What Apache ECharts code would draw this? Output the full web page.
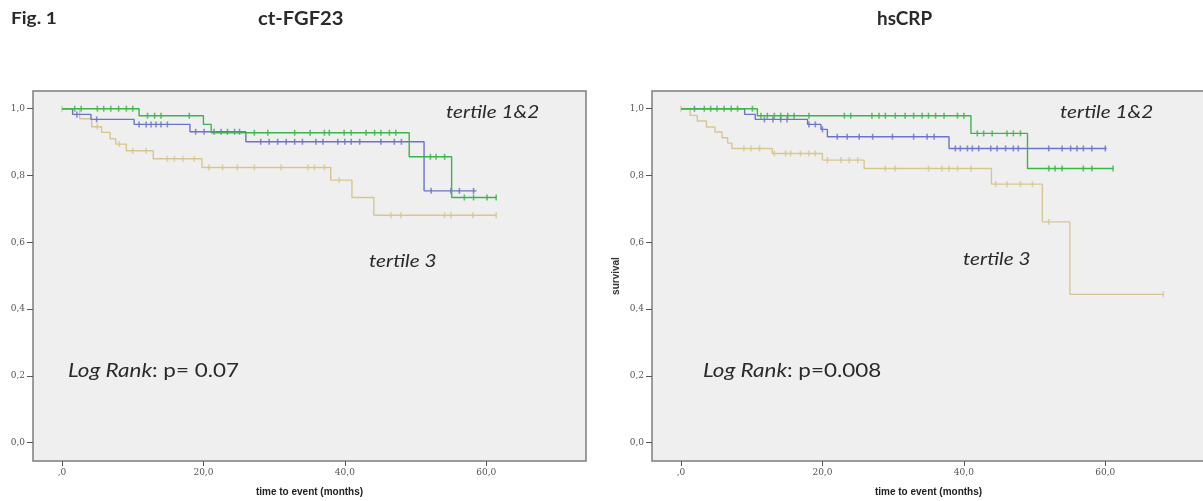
<!DOCTYPE html>
<html>
<head>
<meta charset="utf-8">
<script src="https://cdn.jsdelivr.net/npm/echarts@6/dist/echarts.min.js"></script>
<style>
html, body { margin: 0; padding: 0; background: #fff; }
#chart { width: 1203px; height: 501px; }
</style>
</head>
<body>
<div id="chart"></div>
<script>
var xTicks = [0, 20, 40, 60];
var yTicks = [0, 0.2, 0.4, 0.6, 0.8, 1.0];

// ct-FGF23, tertile 1 (green)
var fgfGreenTime = [0, 10.9, 20.0, 21.1, 49.1, 55.1];
var fgfGreenSurv = [1, 0.979, 0.953, 0.928, 0.856, 0.734];
var fgfGreenEnd = 61.4;
var fgfGreenCens = [1.8, 2.7, 5.0, 5.9, 6.9, 8.0, 9.1, 10.0, 12.1, 13.1, 14.0, 18.0, 27.2, 29.1, 32.9, 35.1, 37.1, 37.8, 39.9, 40.9, 43.0, 44.2, 45.1, 46.3, 47.2, 52.1, 52.9, 54.1, 56.9, 58.2, 60.1, 61.4];
// ct-FGF23, tertile 2 (blue)
var fgfBlueTime = [0, 1.5, 4.1, 10.2, 18.1, 26.0, 51.2];
var fgfBlueSurv = [1, 0.983, 0.968, 0.953, 0.931, 0.901, 0.754];
var fgfBlueEnd = 58.6;
var fgfBlueCens = [2.1, 4.9, 10.9, 11.9, 12.6, 13.3, 14.0, 14.9, 18.9, 20.1, 21.5, 22.5, 23.4, 24.4, 25.1, 28.1, 29.3, 30.5, 31.7, 32.9, 34.0, 35.9, 36.9, 39.0, 40.0, 40.9, 42.1, 45.1, 47.0, 48.0, 52.2, 55.0, 56.2, 58.2];
// ct-FGF23, tertile 3 (tan)
var fgfTanTime = [0, 2.5, 4.2, 5.6, 6.8, 7.6, 9.1, 12.9, 19.8, 38.0, 41.0, 44.1];
var fgfTanSurv = [1, 0.97, 0.946, 0.929, 0.91, 0.894, 0.874, 0.85, 0.824, 0.786, 0.734, 0.681];
var fgfTanEnd = 61.4;
var fgfTanCens = [0, 5.0, 8.1, 10.0, 11.9, 14.9, 15.9, 17.1, 18.7, 20.8, 22.7, 24.8, 27.2, 31.0, 34.8, 35.7, 37.1, 39.2, 46.5, 47.9, 54.1, 55.0, 58.1, 61.4];

// hsCRP, tertile 1 (green)
var crpGreenTime = [0, 10.8, 41.0, 49.0];
var crpGreenSurv = [1, 0.979, 0.926, 0.821];
var crpGreenEnd = 61.1;
var crpGreenCens = [3.3, 4.2, 5.1, 6.1, 7.1, 8.0, 10.1, 11.3, 12.2, 13.2, 14.1, 15.1, 16.0, 18.1, 23.1, 24.0, 27.0, 28.0, 28.9, 30.3, 31.7, 32.9, 34.1, 35.0, 36.0, 37.2, 39.1, 40.0, 41.9, 42.8, 44.0, 46.1, 47.0, 48.0, 52.0, 52.9, 53.9, 56.9, 58.1, 61.1];
// hsCRP, tertile 2 (blue)
var crpBlueTime = [0, 9.0, 10.5, 17.9, 19.8, 20.7, 37.9];
var crpBlueSurv = [1, 0.983, 0.968, 0.953, 0.938, 0.916, 0.881];
var crpBlueEnd = 60.2;
var crpBlueCens = [1.9, 11.8, 13.0, 14.1, 15.0, 18.1, 19.0, 20.0, 22.1, 23.5, 25.2, 27.1, 29.9, 32.9, 34.8, 35.8, 38.8, 39.5, 40.5, 41.2, 42.1, 43.8, 44.7, 45.9, 47.0, 47.7, 52.0, 53.9, 55.1, 56.0, 56.9, 58.1, 60.0];
// hsCRP, tertile 3 (tan)
var crpTanTime = [0, 1.3, 2.3, 3.6, 4.8, 5.8, 6.6, 7.2, 12.9, 20.0, 25.9, 43.9, 51.1, 55.0];
var crpTanSurv = [1, 0.98, 0.963, 0.945, 0.93, 0.913, 0.897, 0.881, 0.866, 0.846, 0.821, 0.774, 0.661, 0.444];
var crpTanEnd = 68.2;
var crpTanCens = [0, 8.9, 9.9, 11.1, 13.2, 14.8, 15.5, 16.9, 18.1, 19.0, 20.7, 22.6, 23.8, 25.0, 28.9, 30.3, 35.0, 36.9, 37.9, 39.1, 41.0, 44.5, 46.1, 48.0, 49.7, 52.0, 68.2];

var GREEN = '#3cb44a', BLUE = '#6a73cf', TAN = '#d6c790';

function survAt(times, surv, t) {
    var s = surv[0];
    for (var i = 0; i < times.length; i++) {
        if (times[i] <= t) s = surv[i];
    }
    return s;
}

function kmSeries(idx, times, surv, end, cens, color) {
    var line = times.map(function (t, i) { return [t, surv[i]]; });
    line.push([end, surv[surv.length - 1]]);
    return [{
        type: 'line', step: 'end', xAxisIndex: idx, yAxisIndex: idx,
        data: line, showSymbol: false, silent: true,
        lineStyle: { color: color, width: 1.4 }
    }, {
        type: 'scatter', xAxisIndex: idx, yAxisIndex: idx,
        data: cens.map(function (t) { return [t, survAt(times, surv, t)]; }),
        symbol: 'rect', symbolSize: [1.6, 6], silent: true,
        itemStyle: { color: color }
    }];
}

function xAx(idx) {
    return {
        type: 'value', gridIndex: idx, min: -4.1, max: 74.1,
        name: 'time to event (months)', nameLocation: 'middle', nameGap: 26,
        nameTextStyle: { fontFamily: 'Liberation Sans', fontWeight: 'bold', fontSize: 10, color: '#222' },
        axisLine: { show: false, onZero: false }, splitLine: { show: false },
        axisTick: { show: true, length: 5, customValues: xTicks, lineStyle: { color: '#555' } },
        axisLabel: {
            customValues: xTicks, fontSize: 9, color: '#555', margin: 7, fontFamily: 'DejaVu Serif',
            formatter: function (v) { return v === 0 ? ',0' : v.toFixed(1).replace('.', ','); }
        }
    };
}

function yAx(idx) {
    return {
        type: 'value', gridIndex: idx, min: -0.055, max: 1.053,
        name: 'survival', nameLocation: 'middle', nameGap: 31, nameRotate: 90,
        nameTextStyle: { fontFamily: 'Liberation Sans', fontWeight: 'bold', fontSize: 10, color: '#333' },
        axisLine: { show: false, onZero: false }, splitLine: { show: false },
        axisTick: { show: true, length: 6, customValues: yTicks, lineStyle: { color: '#555' } },
        axisLabel: {
            customValues: yTicks, fontSize: 9, color: '#555', margin: 8, fontFamily: 'DejaVu Serif',
            formatter: function (v) { return v.toFixed(1).replace('.', ','); }
        }
    };
}

var gridStyle = {
    show: true, backgroundColor: '#efefef', borderColor: '#7d7d7d', borderWidth: 1.5,
    containLabel: false, outerBoundsMode: 'none'
};

// text laid out in pixels, stretched a bit wider like the scanned figure
function label(x, y, text, font, sx, rich) {
    var style = { text: text, font: font, fill: '#2a2a2a', verticalAlign: 'middle' };
    if (rich) style.rich = rich;
    return { type: 'text', x: x, y: y, scaleX: sx, style: style };
}

var italicRich = { i: { fontStyle: 'italic', fontSize: 19, fontFamily: 'Lato', color: '#2a2a2a' } };

var chart = echarts.init(document.getElementById('chart'));
var option = {
    animation: false,
    grid: [
        Object.assign({ left: 33, top: 91, width: 553, height: 370 }, gridStyle),
        Object.assign({ left: 652, top: 91, width: 553, height: 370 }, gridStyle)
    ],
    xAxis: [xAx(0), xAx(1)],
    yAxis: [yAx(0), yAx(1)],
    series: [].concat(
        kmSeries(0, fgfTanTime, fgfTanSurv, fgfTanEnd, fgfTanCens, TAN),
        kmSeries(0, fgfBlueTime, fgfBlueSurv, fgfBlueEnd, fgfBlueCens, BLUE),
        kmSeries(0, fgfGreenTime, fgfGreenSurv, fgfGreenEnd, fgfGreenCens, GREEN),
        kmSeries(1, crpTanTime, crpTanSurv, crpTanEnd, crpTanCens, TAN),
        kmSeries(1, crpBlueTime, crpBlueSurv, crpBlueEnd, crpBlueCens, BLUE),
        kmSeries(1, crpGreenTime, crpGreenSurv, crpGreenEnd, crpGreenCens, GREEN)
    ),
    graphic: [
        label(11, 19, 'Fig. 1', 'bold 17px Lato', 1.12),
        label(258, 19, 'ct-FGF23', 'bold 18px Lato', 1.12),
        label(877, 19, 'hsCRP', 'bold 18px Lato', 1.05),
        label(446, 113, 'tertile 1&2', 'italic 17px Lato', 1.22),
        label(369, 262, 'tertile 3', 'italic 17px Lato', 1.22),
        label(1060, 113, 'tertile 1&2', 'italic 17px Lato', 1.22),
        label(963, 260, 'tertile 3', 'italic 17px Lato', 1.22),
        label(68, 371, '{i|Log Rank}: p= 0.07', '19px Lato', 1.18, italicRich),
        label(703, 371, '{i|Log Rank}: p=0.008', '19px Lato', 1.18, italicRich)
    ]
};
chart.setOption(option);
</script>
</body>
</html>
